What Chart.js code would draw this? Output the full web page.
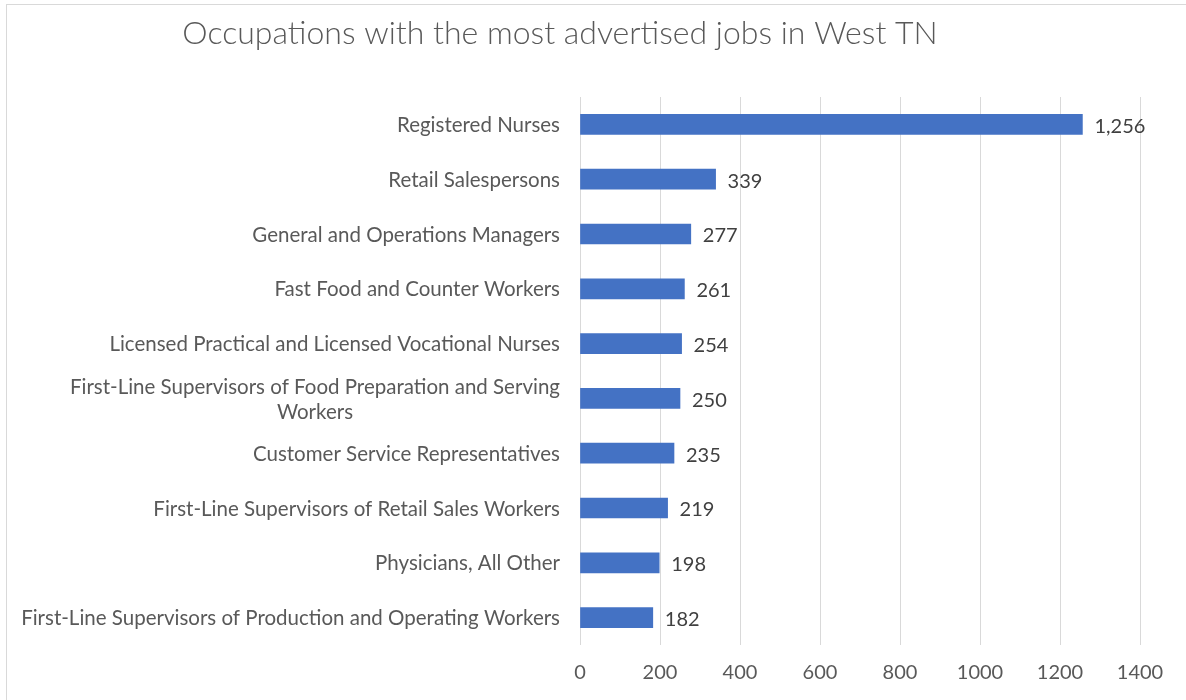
<!DOCTYPE html>
<html>
<head>
<meta charset="utf-8">
<script src="https://cdn.jsdelivr.net/npm/chart.js@4"></script>
<style>
  html, body { margin: 0; padding: 0; background: #ffffff; overflow: hidden; }
  #wrap { position: relative; width: 1186px; height: 700px; }
  #frame { position: absolute; left: 6px; top: 4px; width: 1200px; height: 720px; border: 1px solid #d9d9d9; box-sizing: border-box; }
  #c { position: absolute; left: 0; top: 0; }
</style>
</head>
<body>
<div id="wrap">
  <div id="frame"></div>
  <canvas id="c" width="1186" height="700"></canvas>
</div>
<script>
const chartTitle = "Occupations with the most advertised jobs in West TN";
const categories = [
  "Registered Nurses",
  "Retail Salespersons",
  "General and Operations Managers",
  "Fast Food and Counter Workers",
  "Licensed Practical and Licensed Vocational Nurses",
  ["First-Line Supervisors of Food Preparation and Serving", "Workers"],
  "Customer Service Representatives",
  "First-Line Supervisors of Retail Sales Workers",
  "Physicians, All Other",
  "First-Line Supervisors of Production and Operating Workers"
];
const jobCounts = [1256, 339, 277, 261, 254, 250, 235, 219, 198, 182];
const xTickMin = 0;
const xTickMax = 1400;
const xTickStep = 200;

const FONT = "Lato, 'Liberation Sans', sans-serif";

const titlePlugin = {
  id: 'customTitle',
  afterDraw(chart) {
    const ctx = chart.ctx;
    ctx.save();
    ctx.font = "300 32px " + FONT;
    ctx.fillStyle = "#595959";
    ctx.textAlign = "center";
    ctx.textBaseline = "middle";
    ctx.fillText(chartTitle, 560, 34);
    ctx.restore();
  }
};

// Category labels: right-anchored blocks, lines centred within the block
const categoryLabels = {
  id: 'categoryLabels',
  afterDraw(chart) {
    const ctx = chart.ctx;
    const yScale = chart.scales.y;
    const right = chart.chartArea.left - 20;
    const lineH = 25;
    ctx.save();
    ctx.font = "20.5px " + FONT;
    ctx.fillStyle = "#595959";
    ctx.textBaseline = "middle";
    ctx.textAlign = "center";
    chart.data.labels.forEach((lab, i) => {
      const lines = Array.isArray(lab) ? lab : [lab];
      const w = Math.max(...lines.map(l => ctx.measureText(l).width));
      const cx = right - w / 2;
      const cy = yScale.getPixelForTick(i) + 1;
      const y0 = cy - (lines.length - 1) * lineH / 2;
      lines.forEach((l, k) => ctx.fillText(l, cx, y0 + k * lineH));
    });
    ctx.restore();
  }
};

const valueLabels = {
  id: 'valueLabels',
  afterDatasetsDraw(chart) {
    const ctx = chart.ctx;
    const meta = chart.getDatasetMeta(0);
    ctx.save();
    ctx.font = "20px " + FONT;
    ctx.fillStyle = "#404040";
    ctx.textAlign = "left";
    ctx.textBaseline = "middle";
    meta.data.forEach((bar, i) => {
      const v = chart.data.datasets[0].data[i];
      ctx.fillText(v.toLocaleString('en-US'), bar.x + 12, bar.y + 2);
    });
    ctx.restore();
  }
};

new Chart(document.getElementById('c'), {
  type: 'bar',
  data: {
    labels: categories,
    datasets: [{
      data: jobCounts,
      backgroundColor: '#4472C4',
      borderWidth: 0,
      barThickness: 20
    }]
  },
  options: {
    indexAxis: 'y',
    responsive: false,
    animation: false,
    maintainAspectRatio: false,
    layout: { padding: { top: 97, right: 46, bottom: 0, left: 0 } },
    plugins: {
      legend: { display: false },
      title: { display: false },
      tooltip: { enabled: false }
    },
    scales: {
      x: {
        type: 'linear',
        min: xTickMin,
        max: xTickMax,
        position: 'bottom',
        afterFit(scale) { scale.height = 55; },
        grid: { color: '#d9d9d9', lineWidth: 1, drawTicks: false },
        border: { display: false },
        ticks: {
          stepSize: xTickStep,
          padding: 16,
          color: '#595959',
          font: { family: FONT, size: 20 },
          callback: (v) => String(v)
        }
      },
      y: {
        afterFit(scale) { scale.width = 580; },
        grid: { display: false, drawTicks: false },
        border: { display: false },
        ticks: { display: false, autoSkip: false }
      }
    }
  },
  plugins: [titlePlugin, categoryLabels, valueLabels]
});
</script>
</body>
</html>
